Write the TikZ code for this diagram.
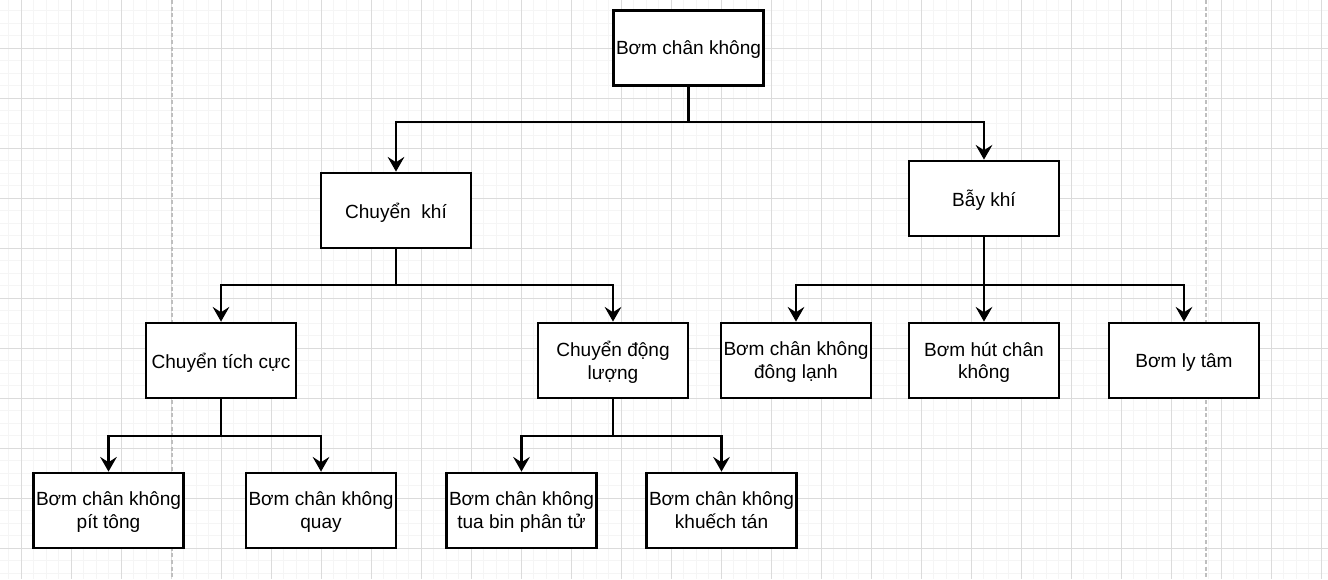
\documentclass[tikz,border=0pt]{standalone}
\usepackage{fontspec}
\setmainfont{Liberation Sans}
\usetikzlibrary{arrows.meta}

\begin{document}
\begin{tikzpicture}[x=0.75pt,y=-0.75pt,every node/.style={font=\fontsize{14.3}{17.2}\selectfont},>={Stealth[length=11pt,width=12.5pt,inset=4pt]},
  box/.style={draw,line width=2.1pt,fill=white,minimum width=112.5pt,minimum height=56.25pt,inner sep=1pt,align=center,text depth=-1pt},
  link/.style={line width=2.1pt},
  minorgrid/.style={draw=black!4,line width=0.75pt},
  majorgrid/.style={draw=black!14,line width=0.75pt}]
\useasboundingbox (0,0) rectangle (1328,579);
\fill[white] (0,0) rectangle (1328,579);
% canvas grid
\foreach \i in {-1,...,105} \draw[minorgrid] ({21+12.5*\i},0) -- ({21+12.5*\i},579);
\foreach \j in {-3,...,42} \draw[minorgrid] (0,{48.3+12.5*\j}) -- (1328,{48.3+12.5*\j});
\foreach \i in {0,...,26} \draw[majorgrid] ({21+50*\i},0) -- ({21+50*\i},579);
\foreach \j in {0,...,10} \draw[majorgrid] (0,{48.3+50*\j}) -- (1328,{48.3+50*\j});
\foreach \x in {172,1206} \draw[draw=black!25,line width=1pt,dash pattern=on 3pt off 2pt] (\x,0) -- (\x,579);

% boxes
\node[box] (root) at (688.5,48) {Bơm chân không};
\node[box] (chuyenkhi) at (396,210.5) {Chuyển\ \ khí};
\node[box] (baykhi) at (984,198.5) {Bẫy khí};
\node[box] (tichcuc) at (221,360.5) {Chuyển tích cực};
\node[box] (donglg) at (613,360.5) {Chuyển động\\lượng};
\node[box] (donglanh) at (796,360.5) {Bơm chân không\\đông lạnh};
\node[box] (hut) at (984,360.5) {Bơm hút chân\\không};
\node[box] (lytam) at (1184,360.5) {Bơm ly tâm};
\node[box] (pitong) at (108.5,510.5) {Bơm chân không\\pít tông};
\node[box] (quay) at (321,510.5) {Bơm chân không\\quay};
\node[box] (tuabin) at (521.5,510.5) {Bơm chân không\\tua bin phân tử};
\node[box] (khuechtan) at (721.5,510.5) {Bơm chân không\\khuếch tán};

% junctions
\coordinate (j0) at (688.5,122);
\coordinate (j1) at (396,285);
\coordinate (j2) at (984,285);
\coordinate (j3) at (221,436);
\coordinate (j4) at (613,436);

\draw[link] (root) -- (j0);
\draw[link,->] (j0) -| (chuyenkhi);
\draw[link,->] (j0) -| (baykhi);
\draw[link] (chuyenkhi) -- (j1);
\draw[link,->] (j1) -| (tichcuc);
\draw[link,->] (j1) -| (donglg);
\draw[link] (baykhi) -- (j2);
\draw[link,->] (j2) -| (donglanh);
\draw[link,->] (j2) -- (hut);
\draw[link,->] (j2) -| (lytam);
\draw[link] (tichcuc) -- (j3);
\draw[link,->] (j3) -| (pitong);
\draw[link,->] (j3) -| (quay);
\draw[link] (donglg) -- (j4);
\draw[link,->] (j4) -| (tuabin);
\draw[link,->] (j4) -| (khuechtan);
\end{tikzpicture}
\end{document}
